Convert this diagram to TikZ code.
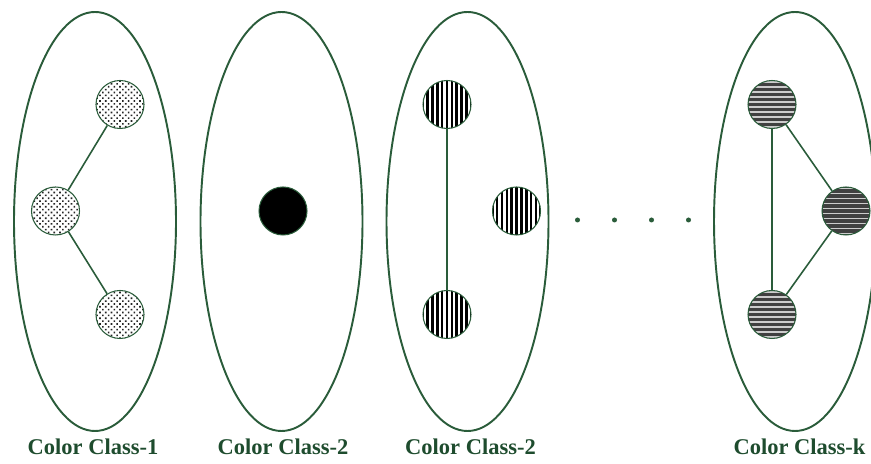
\documentclass[tikz,border=0pt]{standalone}
\usepackage{fontspec}
\setmainfont{Liberation Serif}
\usetikzlibrary{patterns.meta}

\definecolor{classgreen}{RGB}{42,92,58}
\definecolor{labelgreen}{RGB}{30,76,46}

\tikzset{
    classring/.style={draw=classgreen, line width=1.1pt},
    vtx/.style={circle, draw=classgreen, line width=0.6pt, minimum size=0.96cm, inner sep=0pt},
    dotted vtx/.style={vtx, pattern={Dots[distance=2.3pt, radius=0.65pt, angle=45]}, pattern color=black!85},
    vstripe vtx/.style={vtx, path picture={
        \foreach \i in {-5,...,5}
            \draw[black, line width=0.052cm] ([xshift=\i*0.097cm]path picture bounding box.north) -- ([xshift=\i*0.097cm]path picture bounding box.south);
    }},
    hstripe vtx/.style={vtx, fill=black!75, path picture={
        \foreach \i in {-5,...,5}
            \draw[white!80!black, line width=0.028cm] ([yshift=\i*0.1cm+0.05cm]path picture bounding box.west) -- ([yshift=\i*0.1cm+0.05cm]path picture bounding box.east);
    }},
    edge/.style={draw=classgreen, line width=0.9pt},
    classlabel/.style={text=labelgreen, font=\fontsize{12.8}{15}\selectfont\bfseries}
}

\begin{document}
\begin{tikzpicture}
    \useasboundingbox (0,0) rectangle (17.42,9.28);

    % Color classes
    \draw[classring] (1.90,4.85) ellipse (1.62 and 4.19);
    \draw[classring] (5.63,4.85) ellipse (1.62 and 4.19);
    \draw[classring] (9.35,4.85) ellipse (1.62 and 4.19);
    \draw[classring] (15.90,4.85) ellipse (1.62 and 4.19);

    % Class 1 (dotted)
    \node[dotted vtx] (a1) at (2.40,7.19) {};
    \node[dotted vtx] (a2) at (1.11,5.06) {};
    \node[dotted vtx] (a3) at (2.40,2.99) {};
    \draw[edge] (a1) -- (a2);
    \draw[edge] (a2) -- (a3);

    % Class 2 (solid)
    \node[vtx, fill=black] (b1) at (5.66,5.06) {};

    % Class 3 (vertical stripes)
    \node[vstripe vtx] (c1) at (8.94,7.19) {};
    \node[vstripe vtx] (c2) at (10.33,5.06) {};
    \node[vstripe vtx] (c3) at (8.94,2.99) {};
    \draw[edge] (c1) -- (c3);

    % Dots between classes
    \foreach \x in {11.55,12.29,13.03,13.77}
        \fill[classgreen] (\x,4.88) circle (0.05);

    % Class k (horizontal stripes)
    \node[hstripe vtx] (k1) at (15.44,7.19) {};
    \node[hstripe vtx] (k2) at (16.92,5.06) {};
    \node[hstripe vtx] (k3) at (15.44,2.99) {};
    \draw[edge] (k1) -- (k3);
    \draw[edge] (k1) -- (k2);
    \draw[edge] (k2) -- (k3);

    % Labels
    \node[classlabel] (l1) at (1.86,0.34) {Color Class-1};
    \node[classlabel] (l2) at (5.66,0.34) {Color Class-2};
    \node[classlabel] (l3) at (9.41,0.34) {Color Class-2};
    \node[classlabel] (lk) at (15.99,0.34) {Color Class-k};
\end{tikzpicture}
\end{document}
